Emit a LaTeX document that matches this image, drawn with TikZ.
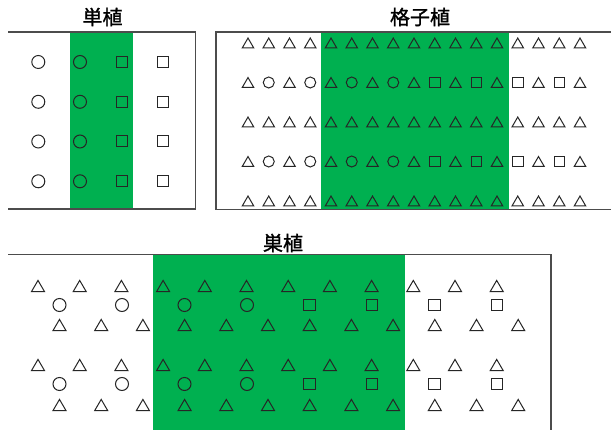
\documentclass[tikz,border=0pt]{standalone}
\usepackage{fontspec}
\newfontfamily\jp[FakeBold=1.2]{Noto Sans CJK JP}
\definecolor{grn}{RGB}{0,176,80}
\begin{document}
\begin{tikzpicture}[x=1pt,y=-1pt,
  sym/.style={draw=black!85, line width=1pt},
  frame/.style={draw=black!70, line width=1.2pt},
  ttl/.style={font=\jp\fontsize{20}{20}\selectfont, inner sep=0pt},
  pics/tri/.style={code={\draw[sym] ({-#1/2},{0.43*#1}) -- (0,{-0.43*#1}) -- ({#1/2},{0.43*#1}) -- cycle;}},
  pics/cir/.style={code={\draw[sym] (0,0) circle[radius=#1];}},
  pics/sq/.style={code={\draw[sym] ({-#1/2},{-#1/2}) rectangle ({#1/2},{#1/2});}}
]
\useasboundingbox (0,0) rectangle (611,430);
\fill[white] (0,0) rectangle (611,430);

% ---------- panel 1 ----------
\fill[grn] (70,32) rectangle (133,209);
\draw[frame] (8,32) -- (195.5,32) -- (195.5,209) -- (8,209);
\node[ttl] (t1) at (102.5,17) {単植};
\foreach \y in {62,101.8,141.5,181.3} {
  \pic at (38.3,\y) {cir=6.5};
  \pic at (80,\y) {cir=6.5};
  \pic at (122,\y) {sq=11};
  \pic at (163.3,\y) {sq=11};
}

% ---------- panel 2 ----------
\fill[grn] (320.5,32) rectangle (508.5,209.5);
\draw[frame] (611,32) -- (216,32) -- (216,209.5) -- (611,209.5);
\node[ttl] (t2) at (420,17) {格子植};
\foreach \y in {43,122,201} {
  \foreach \i in {0,...,16} {
    \pic at ({248+20.75*\i},\y) {tri=11.5};
  }
}
\foreach \y in {82.5,161.5} {
  \foreach \i in {0,...,16} {
    \ifodd\i
      \ifnum\i<8
        \pic at ({248+20.75*\i},\y) {cir=5.5};
      \else
        \pic at ({248+20.75*\i},\y) {sq=10.5};
      \fi
    \else
      \pic at ({248+20.75*\i},\y) {tri=11.5};
    \fi
  }
}

% ---------- panel 3 ----------
\fill[grn] (153,254.5) rectangle (405,430);
\draw[frame] (8,254.5) -- (551,254.5) -- (551,430);
\node[ttl] (t3) at (283,243) {巣植};
\foreach \y in {286,365} {
  \foreach \k in {0,...,11} {
    \pic at ({38+41.7*\k},\y) {tri=13};
  }
}
\foreach \y in {325,405} {
  \foreach \k in {0,...,11} {
    \pic at ({59.5+41.7*\k},\y) {tri=13};
  }
}
\foreach \y in {305,384} {
  \foreach \k in {0,...,7} {
    \ifnum\k<4
      \pic at ({59.5+62.5*\k},\y) {cir=6.5};
    \else
      \pic at ({59.5+62.5*\k},\y) {sq=11.5};
    \fi
  }
}
\end{tikzpicture}
\end{document}
